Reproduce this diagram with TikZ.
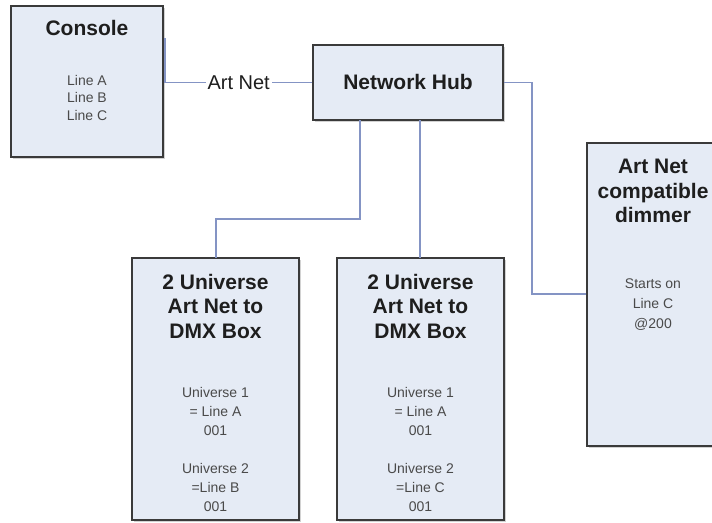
\documentclass[tikz,border=0pt]{standalone}
\usepackage{fontspec}
\setmainfont{Liberation Sans}
\usetikzlibrary{shadows}
\definecolor{boxfill}{HTML}{E5EBF5}
\definecolor{boxline}{HTML}{3A3A3A}
\definecolor{wire}{HTML}{8494C4}
\definecolor{titletext}{HTML}{1E1E1E}
\definecolor{bodytext}{HTML}{4A4A4A}
\begin{document}
\begin{tikzpicture}[x=1pt,y=-1pt,
  box/.style={draw=boxline, line width=1.5pt, fill=boxfill, rectangle, inner sep=0pt,
    drop shadow={shadow xshift=1.5pt, shadow yshift=-1.5pt, opacity=0.35}},
  titletxt/.style={align=center, inner sep=0pt, text=titletext,
    font=\fontsize{21}{24.5}\selectfont\bfseries},
  bodytxt/.style={align=center, inner sep=0pt, text=bodytext,
    font=\fontsize{14}{19}\selectfont},
  wirestyle/.style={draw=wire, line width=1.4pt}
]
\clip (0,0) rectangle (712,522);
\fill[white] (0,0) rectangle (712,522);

% boxes
\node[box, minimum width=152pt, minimum height=151pt] (console) at (87,81.5) {};
\node[box, minimum width=190pt, minimum height=75pt] (hub) at (408,82.5) {};
\node[box, minimum width=134pt, minimum height=303pt] (dimmer) at (654,294.5) {};
\node[box, minimum width=167pt, minimum height=262pt] (uniA) at (215.5,389) {};
\node[box, minimum width=167pt, minimum height=262pt] (uniB) at (420.5,389) {};

% texts
\node[titletxt] (consoleT) at (87,28) {Console};
\node[bodytxt, font=\fontsize{14}{17.5}\selectfont] (consoleB) at (87,97.5) {Line A\\Line B\\Line C};
\node[titletxt] (hubT) at (408,82) {Network Hub};
\node[titletxt] (dimT) at (653,191) {Art Net\\compatible\\dimmer};
\node[bodytxt, font=\fontsize{14}{20}\selectfont] (dimB) at (653,305) {Starts on\\Line C\\@200};
\node[titletxt] (uniAT) at (215.5,306) {2 Universe\\Art Net to\\DMX Box};
\node[bodytxt] (uniAB) at (215.5,449) {Universe 1\\= Line A\\001\\[19pt]Universe 2\\=Line B\\001};
\node[titletxt] (uniBT) at (420.5,306) {2 Universe\\Art Net to\\DMX Box};
\node[bodytxt] (uniBB) at (420.5,449) {Universe 1\\= Line A\\001\\[19pt]Universe 2\\=Line C\\001};

% connectors
\coordinate (cstart) at (165,38);
\path[wirestyle] (cstart) -- (cstart |- hub.west) -- node[fill=white, inner sep=2pt, text=titletext, font=\fontsize{20}{24}\selectfont] (artnet) {Art Net} (hub.west);
\coordinate (hubR) at (hub.east);
\draw[wirestyle] (hub.east) -- (532,82.5) -- (532,294) -- (dimmer.west |- 0,294);
\draw[wirestyle] (360,120) -- (360,219) -- (216,219) -- (216,258);
\draw[wirestyle] (420,120) -- (420,258);
\end{tikzpicture}
\end{document}
